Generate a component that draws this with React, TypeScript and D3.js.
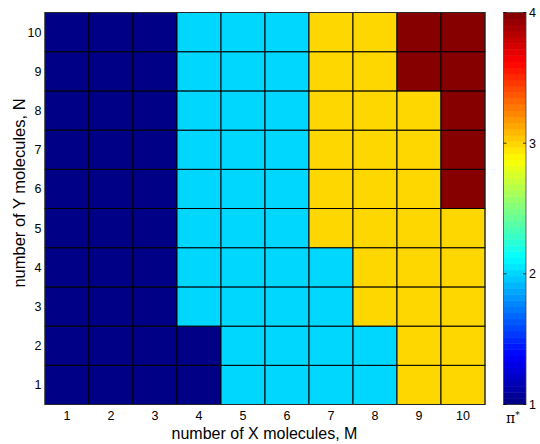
import React from "react";
import * as d3 from "d3";

const mValues = [1, 2, 3, 4, 5, 6, 7, 8, 9, 10];
const nValues = [1, 2, 3, 4, 5, 6, 7, 8, 9, 10];
// piStar[n-1][m-1]
const piStar: number[][] = [
  [1, 1, 1, 1, 2, 2, 2, 2, 3, 3],
  [1, 1, 1, 1, 2, 2, 2, 2, 3, 3],
  [1, 1, 1, 2, 2, 2, 2, 3, 3, 3],
  [1, 1, 1, 2, 2, 2, 2, 3, 3, 3],
  [1, 1, 1, 2, 2, 2, 3, 3, 3, 3],
  [1, 1, 1, 2, 2, 2, 3, 3, 3, 4],
  [1, 1, 1, 2, 2, 2, 3, 3, 3, 4],
  [1, 1, 1, 2, 2, 2, 3, 3, 3, 4],
  [1, 1, 1, 2, 2, 2, 3, 3, 4, 4],
  [1, 1, 1, 2, 2, 2, 3, 3, 4, 4],
];
const cbTicks = [1, 2, 3, 4];

function jet(t: number): string {
  const f = (x: number) => Math.max(0, Math.min(1, x));
  const r = f(Math.min(4 * t - 1.5, -4 * t + 4.5));
  const g = f(Math.min(4 * t - 0.5, -4 * t + 3.5));
  const b = f(Math.min(4 * t + 0.5, -4 * t + 2.5));
  return d3.rgb(r * 255, g * 255, b * 255).formatHex();
}

const N_COLORS = 64;
const jetSteps = d3.range(N_COLORS).map((i) => jet((i + 0.5) / N_COLORS));

function colorFor(v: number): string {
  const idx = Math.min(N_COLORS - 1, Math.floor(((v - 1) / 3) * N_COLORS));
  return jetSteps[idx];
}

export default function App() {
  const W = 540, H = 444;
  const left = 45, right = 485, top = 12.5, bottom = 404.5;
  const x = d3.scaleBand<number>().domain(mValues).range([left, right]).padding(0);
  const y = d3.scaleBand<number>().domain(nValues).range([bottom, top]).padding(0);
  const cbL = 503.5, cbR = 526;
  const cy = d3.scaleLinear().domain([1, 4]).range([bottom, top]);
  const font = "'Liberation Sans', Arial, Helvetica, sans-serif";

  const cells: React.ReactNode[] = [];
  nValues.forEach((n, ni) => {
    mValues.forEach((m, mi) => {
      cells.push(
        <rect
          key={`${n}-${m}`}
          x={x(m)!}
          y={y(n)!}
          width={x.bandwidth()}
          height={y.bandwidth()}
          fill={colorFor(piStar[ni][mi])}
          stroke="#000"
          strokeWidth={1}
        />
      );
    });
  });

  const stepH = (bottom - top) / N_COLORS;

  return (
    <svg width={W} height={H} style={{ position: "absolute", left: 0, top: 0, background: "#fff" }} fontFamily={font}>
      <rect x={0} y={0} width={W} height={H} fill="#fff" />
      {cells}
      <rect x={left} y={top} width={right - left} height={bottom - top} fill="none" stroke="#333" strokeWidth={0.8} />
      {mValues.map((m) => (
        <text key={`xt${m}`} x={x(m)! + x.bandwidth() / 2} y={420} fontSize={12.5} textAnchor="middle" fill="#000">
          {m}
        </text>
      ))}
      {nValues.map((n) => (
        <text key={`yt${n}`} x={41.5} y={y(n)! + y.bandwidth() / 2 + 4.5} fontSize={12.5} textAnchor="end" fill="#000">
          {n}
        </text>
      ))}
      <text x={264.5} y={438.5} fontSize={16} textAnchor="middle" fill="#000">
        number of X molecules, M
      </text>
      <text
        transform={`translate(25,193) rotate(-90)`}
        fontSize={16.5}
        textAnchor="middle"
        fill="#000"
      >
        number of Y molecules, N
      </text>
      {jetSteps.map((c, i) => (
        <rect key={`cb${i}`} x={cbL} y={bottom - (i + 1) * stepH} width={cbR - cbL} height={stepH + 0.5} fill={c} />
      ))}
      <rect x={cbL} y={top} width={cbR - cbL} height={bottom - top} fill="none" stroke="#444" strokeWidth={0.8} />
      {cbTicks.map((t) => (
        <g key={`cbt${t}`}>
          <line x1={cbL} x2={cbL + 3} y1={cy(t)} y2={cy(t)} stroke="#000" strokeWidth={0.8} />
          <line x1={cbR - 3} x2={cbR} y1={cy(t)} y2={cy(t)} stroke="#000" strokeWidth={0.8} />
          <text x={529} y={cy(t) + 4.5} fontSize={12.5} fill="#000">
            {t}
          </text>
        </g>
      ))}
      <text x={506} y={423} fontSize={14} fill="#000" fontFamily="'DejaVu Serif', serif">
        π<tspan dy={-5} fontSize={9}>*</tspan>
      </text>
    </svg>
  );
}
